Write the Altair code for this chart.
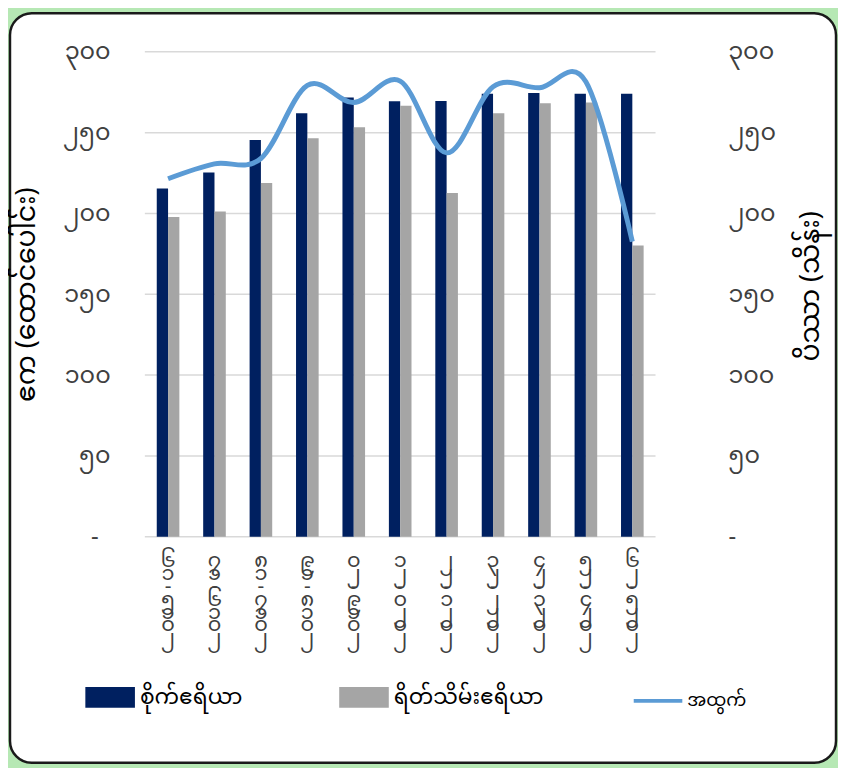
import altair as alt
import pandas as pd

# ---- data ----
years = ["၂၀၁၅-၁၆", "၂၀၁၆-၁၇", "၂၀၁၇-၁၈", "၂၀၁၈-၁၉", "၂၀၁၉-၂၀", "၂၀၂၀-၂၁",
         "၂၀၂၁-၂၂", "၂၀၂၂-၂၃", "၂၀၂၃-၂၄", "၂၀၂၄-၂၅", "၂၀၂၅-၂၆"]
sown = [215.4, 225.4, 245.4, 262.0, 271.7, 269.4, 269.6, 274.1, 274.6, 274.1, 274.1]
harvested = [197.8, 201.2, 218.9, 246.5, 253.3, 266.6, 212.7, 262.0, 268.2, 268.6, 180.2]
production = [221.5, 230.7, 234.0, 279.2, 268.6, 281.9, 237.5, 278.4, 277.8, 281.5, 182.6]
bar_series = ["စိုက်ဧရိယာ", "ရိတ်သိမ်းဧရိယာ"]
line_series = "အထွက်"
y_ticks = [0, 50, 100, 150, 200, 250, 300]
y_tick_labels = ["-", "၅၀", "၁၀၀", "၁၅၀", "၂၀၀", "၂၅၀", "၃၀၀"]
left_title = "ဧက (ထောင်ပေါင်း)"
right_title = "ပိဿာ (သိန်း)"

FONT = "Noto Sans Myanmar, Padauk, Myanmar Text, Noto Sans, sans-serif"
NAVY = "#002060"
GRAY = "#A5A5A5"
BLUE = "#5B9BD5"
TXT = "#404040"

bars_df = pd.DataFrame({
    "year": years * 2,
    "series": [bar_series[0]] * len(years) + [bar_series[1]] * len(years),
    "value": sown + harvested,
})
line_df = pd.DataFrame({"year": years, "prod": production, "lname": [line_series] * len(years)})
grid_df = pd.DataFrame({"v": y_ticks})
frame_df = pd.DataFrame({"a": [0]})


def label_expr(zero_label):
    parts = []
    for v, lab in zip(y_ticks, y_tick_labels):
        t = zero_label if v == 0 else lab
        parts.append(f"datum.value == {v} ? '{t}'")
    return " : ".join(parts) + " : ''"


yscale = alt.Scale(domain=[0, 300], nice=False, zero=True)
left_axis = alt.Axis(values=y_ticks, labelExpr=label_expr("-\u2002\u200b"), orient="left",
                     title=left_title, domain=False, ticks=False, grid=False, zindex=2,
                     labelPadding=35, labelFontSize=24, labelColor=TXT, labelFont=FONT,
                     titleFontSize=27, titleFontWeight="normal", titleColor="black",
                     titleFont=FONT, titlePadding=22)
right_axis = alt.Axis(values=y_ticks, labelExpr=label_expr("-"), orient="right",
                      title=right_title, domain=False, ticks=False, grid=False, zindex=2,
                      labelPadding=73, labelFontSize=24, labelColor=TXT, labelFont=FONT,
                      titleFontSize=27, titleFontWeight="normal", titleColor="black",
                      titleFont=FONT, titlePadding=22, titleAngle=270, titleBaseline="top",
                      titleY=236)
xenc = alt.X("year:N", sort=years,
             scale=alt.Scale(paddingInner=0.513, paddingOuter=0.2565),
             axis=alt.Axis(title=None, labelAngle=0, zindex=2,
                           labelExpr="reverse(split(datum.label, ''))",
                           labelLineHeight=13, labelFontSize=21, labelBaseline="top",
                           labelPadding=13, ticks=False, domain=False,
                           labelColor=TXT, labelFont=FONT))

frame = alt.Chart(frame_df).mark_rect(
    fill="white", stroke="#1a1a1a", strokeWidth=2.5, cornerRadius=22
).encode(x=alt.value(-136), x2=alt.value(697), y=alt.value(-39), y2=alt.value(717))

grid = alt.Chart(grid_df).mark_rule(color="#D9D9D9", strokeWidth=1.5).encode(
    y=alt.Y("v:Q", scale=yscale, axis=left_axis)
)

bars = alt.Chart(bars_df).mark_bar().encode(
    x=xenc,
    xOffset=alt.XOffset("series:N", sort=bar_series, scale=alt.Scale(paddingInner=0, paddingOuter=0)),
    y=alt.Y("value:Q", scale=yscale, axis=left_axis),
    color=alt.Color("series:N", sort=bar_series,
                    scale=alt.Scale(domain=bar_series, range=[NAVY, GRAY]),
                    legend=alt.Legend(title=None, orient="none", legendX=-60, legendY=626,
                                      direction="horizontal", padding=0,
                                      symbolType="M-1,-0.42H1V0.42H-1Z", symbolSize=2500,
                                      symbolStrokeWidth=0, labelFontSize=22, labelOffset=5,
                                      columnPadding=97, labelFont=FONT, labelColor="black")),
)

left = alt.layer(grid, bars)

line = alt.Chart(line_df).mark_line(strokeWidth=5, interpolate="cardinal").encode(
    x=xenc,
    y=alt.Y("prod:Q", scale=yscale, axis=right_axis),
    stroke=alt.Stroke("lname:N", scale=alt.Scale(domain=[line_series], range=[BLUE]),
                      legend=alt.Legend(title=None, orient="none", legendX=491, legendY=628,
                                        padding=0, symbolType="stroke", symbolSize=2400,
                                        symbolStrokeWidth=4, labelFontSize=18, labelOffset=3,
                                        labelFont=FONT, labelColor="black")),
)

chart = alt.layer(frame, left, line).resolve_scale(y="independent").properties(
    width=515, height=489, padding=0, background="#B6E8B4"
).configure_view(stroke=None)

chart.save("out.html", embed_options={"renderer": "svg", "actions": False})
